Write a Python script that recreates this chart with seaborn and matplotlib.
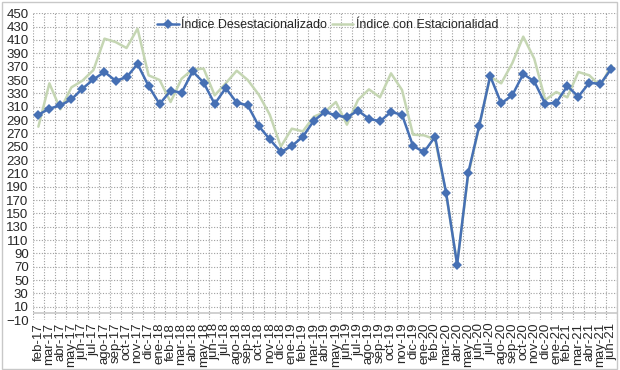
"""
Indice desestacionalizado vs indice con estacionalidad, feb-17 a jun-21
"""

import matplotlib
matplotlib.use("Agg")
import matplotlib.pyplot as plt
import matplotlib.patches as mpatches
import numpy as np
import pandas as pd
import seaborn as sns

meses = ["ene", "feb", "mar", "abr", "may", "jun",
         "jul", "ago", "sep", "oct", "nov", "dic"]
labels = [f"{m}-{a}" for a in range(17, 22) for m in meses]
labels = labels[1:labels.index("jun-21") + 1]

desestacionalizado = [
    298, 307, 312, 321, 337, 351, 362, 349, 354, 374, 341,
    314, 334, 331, 363, 346, 314, 338, 316, 312, 281, 261, 242,
    251, 265, 289, 302, 297, 294, 304, 292, 288, 302, 298, 251,
    242, 265, 181, 73, 210, 281, 356, 315, 327, 359, 348, 314,
    316, 341, 325, 346, 344, 367,
]
con_estacionalidad = [
    280, 345, 306, 339, 349, 365, 412, 407, 398, 427, 357,
    350, 317, 352, 366, 367, 327, 345, 364, 350, 328, 298, 250,
    277, 273, 295, 302, 317, 283, 320, 336, 324, 360, 335, 268,
    267, 261, 180, 74, 207, 280, 355, 345, 375, 415, 382, 320,
    332, 324, 362, 357, 341, 372,
]

df = pd.DataFrame({
    "pos": np.arange(len(labels)),
    "Índice Desestacionalizado": desestacionalizado,
    "Índice con Estacionalidad": con_estacionalidad,
})

sns.set_style("white")
plt.rcParams["font.family"] = ["Liberation Sans", "DejaVu Sans"]

fig = plt.figure(figsize=(6.2, 3.7), dpi=100)
ax = fig.add_axes([0.053, 0.135, 0.942, 0.829])

blue = "#4670b4"
green = "#c5d6b3"

sns.lineplot(data=df, x="pos", y="Índice con Estacionalidad", color=green,
             linewidth=1.8, ax=ax, label="Índice con Estacionalidad", zorder=3)
sns.lineplot(data=df, x="pos", y="Índice Desestacionalizado", color=blue,
             linewidth=1.8, marker="D", markersize=5, markeredgewidth=0,
             ax=ax, label="Índice Desestacionalizado", zorder=4)

n = len(labels)
ax.set_xlim(-0.5, n - 0.5)
ax.set_ylim(-10, 450)
ax.set_yticks(np.arange(-10, 451, 20))
ax.set_xticks(np.arange(n))
ax.set_xticklabels(labels, rotation=90, fontsize=9.5)
ax.tick_params(axis="y", labelsize=9.5, length=0, pad=3)
ax.tick_params(axis="x", length=0, pad=2)
ax.set_xlabel("")
ax.set_ylabel("")

# grid: dotted, vertical lines between categories
ax.set_xticks(np.arange(-0.5, n, 1), minor=True)
ax.grid(axis="y", which="major", linestyle=(0, (1, 1.5)), color="#a0a0a0", linewidth=0.8)
ax.grid(axis="x", which="minor", linestyle=(0, (1, 1.5)), color="#a0a0a0", linewidth=0.8)
ax.grid(axis="x", which="major", visible=False)
ax.axhline(0, color="#c8c8c8", linewidth=1.2, zorder=2)
ax.set_axisbelow(True)
for s in ax.spines.values():
    s.set_visible(False)

h, l = ax.get_legend_handles_labels()
ax.legend(h[::-1], l[::-1], loc="upper center", bbox_to_anchor=(0.505, 1.005),
          ncol=2, frameon=False, fontsize=9, handlelength=1.7,
          columnspacing=0.4, handletextpad=0.2, borderaxespad=0.2)

fig.patches.append(mpatches.Rectangle((0.003, 0.004), 0.992, 0.991, transform=fig.transFigure,
                                      fill=False, edgecolor="#c8c8c8", linewidth=1))

fig.savefig("out.png", dpi=100)
